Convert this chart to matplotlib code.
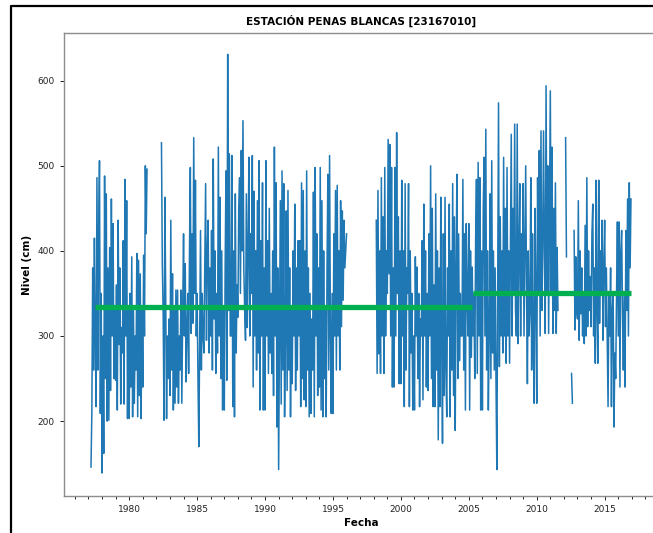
import numpy as np
import matplotlib
matplotlib.use("Agg")
import matplotlib.pyplot as plt
from matplotlib.lines import Line2D

nan = np.nan

# Water level (cm), sampled every 1/16 of a year starting at 1977.0.
# Each row covers half a year (8 samples); NaN marks missing records.
nivel_rows = [
    [nan, nan, nan, 146, 210, 380, 260, 415],   # 1977 a
    [300, 217, 486, 260, 420, 506, 209, 350],   # 1977 b
    [139, 300, 162, 488, 250, 467, 200, 380],   # 1978 a
    [201, 404, 236, 461, 300, 432, 250, 330],   # 1978 b
    [248, 360, 213, 436, 290, 380, 220, 310],   # 1979 a
    [280, 412, 220, 484, 300, 459, 203, 330],   # 1979 b
    [203, 350, 240, 393, 205, 330, 221, 300],   # 1980 a
    [260, 397, 205, 389, 230, 373, 203, 330],   # 1980 b
    [240, 395, 300, 500, 420, 496, nan, nan],   # 1981 a
    [nan, nan, nan, nan, nan, nan, nan, nan],   # 1981 b
    [nan, nan, nan, nan, nan, nan, 527, 385],   # 1982 a
    [326, 201, 463, 346, 203, 300, 250, 320],   # 1982 b
    [230, 436, 260, 373, 213, 330, 221, 354],   # 1983 a
    [240, 354, 221, 300, 260, 354, 221, 330],   # 1983 b
    [420, 300, 385, 246, 307, 350, 256, 400],   # 1984 a
    [498, 303, 420, 315, 533, 350, 483, 300],   # 1984 b
    [350, 250, 170, 300, 424, 260, 350, 300],   # 1985 a
    [280, 380, 479, 295, 400, 436, 280, 380],   # 1985 b
    [300, 424, 260, 508, 320, 400, 256, 350],   # 1986 a
    [280, 522, 300, 463, 250, 400, 213, 330],   # 1986 b
    [213, 380, 494, 248, 631, 330, 514, 300],   # 1987 a
    [300, 512, 217, 400, 205, 467, 280, 360],   # 1987 b
    [322, 450, 486, 350, 518, 400, 553, 380],   # 1988 a
    [330, 295, 467, 310, 400, 510, 300, 420],   # 1988 b
    [350, 512, 240, 470, 300, 400, 260, 459],   # 1989 a
    [280, 506, 213, 412, 300, 480, 213, 380],   # 1989 b
    [213, 506, 300, 412, 256, 450, 280, 350],   # 1990 a
    [256, 400, 230, 522, 300, 480, 193, 380],   # 1990 b
    [143, 300, 459, 220, 494, 260, 479, 205],   # 1991 a
    [300, 447, 236, 471, 260, 380, 205, 330],   # 1991 b
    [244, 400, 300, 455, 236, 380, 260, 412],   # 1992 a
    [300, 412, 217, 480, 250, 471, 225, 400],   # 1992 b
    [217, 494, 260, 380, 205, 350, 209, 320],   # 1993 a
    [260, 469, 205, 498, 300, 420, 230, 380],   # 1993 b
    [240, 498, 213, 459, 205, 400, 250, 330],   # 1994 a
    [205, 380, 490, 260, 512, 300, 209, 350],   # 1994 b
    [209, 420, 300, 471, 260, 477, 300, 400],   # 1995 a
    [260, 459, 311, 447, 342, 436, 380, 400],   # 1995 b
    [420, nan, nan, nan, nan, nan, nan, nan],   # 1996 a
    [nan, nan, nan, nan, nan, nan, nan, nan],   # 1996 b
    [nan, nan, nan, nan, nan, nan, nan, nan],   # 1997 a
    [nan, nan, nan, nan, nan, nan, nan, nan],   # 1997 b
    [nan, nan, nan, 436, 256, 471, 279, 400],   # 1998 a
    [256, 486, 300, 440, 256, 498, 300, 400],   # 1998 b
    [350, 531, 373, 525, 300, 498, 240, 380],   # 1999 a
    [240, 498, 300, 539, 350, 440, 244, 400],   # 1999 b
    [244, 483, 300, 400, 217, 479, 260, 380],   # 2000 a
    [350, 479, 217, 400, 280, 350, 213, 300],   # 2000 b
    [213, 393, 300, 381, 250, 350, 217, 320],   # 2001 a
    [300, 412, 225, 455, 300, 400, 240, 350],   # 2001 b
    [236, 420, 300, 500, 250, 450, 217, 360],   # 2002 a
    [217, 467, 260, 400, 178, 380, 217, 463],   # 2002 b
    [300, 174, 420, 230, 463, 260, 205, 380],   # 2003 a
    [300, 455, 205, 400, 260, 479, 230, 440],   # 2003 b
    [189, 380, 490, 250, 420, 271, 350, 300],   # 2004 a
    [300, 484, 260, 420, 213, 432, 350, 300],   # 2004 b
    [432, 213, 400, 275, 381, 300, 350, 250],   # 2005 a
    [410, 484, 256, 504, 300, 486, 213, 400],   # 2005 b
    [213, 450, 510, 300, 543, 260, 400, 213],   # 2006 a
    [300, 467, 250, 506, 280, 400, 260, 380],   # 2006 b
    [248, 143, 350, 574, 264, 440, 300, 400],   # 2007 a
    [280, 510, 300, 450, 268, 498, 300, 400],   # 2007 b
    [268, 400, 537, 300, 450, 350, 549, 330],   # 2008 a
    [300, 549, 291, 400, 479, 300, 420, 350],   # 2008 b
    [479, 300, 400, 500, 350, 244, 400, 300],   # 2009 a
    [330, 486, 260, 420, 300, 221, 450, 350],   # 2009 b
    [221, 486, 350, 518, 300, 541, 330, 400],   # 2010 a
    [541, 400, 303, 594, 350, 500, 303, 450],   # 2010 b
    [588, 350, 522, 303, 450, 330, 480, 303],   # 2011 a
    [404, 330, nan, nan, nan, nan, nan, nan],   # 2011 b
    [nan, nan, 533, 393, nan, nan, nan, nan],   # 2012 a
    [nan, 256, 221, nan, 424, 307, 393, 330],   # 2012 b
    [320, 459, 295, 400, 326, 380, 300, 350],   # 2013 a
    [291, 430, 300, 486, 311, 400, 330, 370],   # 2013 b
    [311, 420, 455, 300, 380, 268, 483, 330],   # 2014 a
    [268, 483, 315, 400, 350, 436, 295, 380],   # 2014 b
    [436, 311, 380, 300, 217, 350, 300, 380],   # 2015 a
    [217, 330, 350, 193, 280, 250, 350, 434],   # 2015 b
    [300, 434, 240, 400, 424, 330, 260, 350],   # 2016 a
    [240, 424, 330, 461, 300, 480, 380, 461],   # 2016 b
]
start_year = 1977.0
samples_per_year = 16

# Mean level for each period
mean_periods = [(1977.45, 2005.25), (2005.3, 2016.95)]
mean_levels = [334, 351]

nivel = np.array([v for row in nivel_rows for v in row], dtype=float)
fecha = start_year + np.arange(nivel.size) / samples_per_year

W, H = 653, 533
fig = plt.figure(figsize=(W / 100, H / 100), dpi=100)
ax = fig.add_axes([64 / W, 1 - 496 / H, (659 - 64) / W, (496 - 33) / H])

ax.plot(fecha, nivel, color="#1f77b4", lw=1.1)
for (x0, x1), m in zip(mean_periods, mean_levels):
    ax.plot([x0, x1], [m, m], color="#00b050", lw=3.8, solid_capstyle="butt")

ax.set_xlim(1975.2, 2019.0)
ax.set_ylim(112, 656)
ax.set_xticks([1980, 1985, 1990, 1995, 2000, 2005, 2010, 2015])
ax.set_xticks(np.arange(1976, 2019), minor=True)
ax.set_yticks([200, 300, 400, 500, 600])
ax.tick_params(labelsize=6.5, colors="#222222", length=3, width=0.7)
ax.tick_params(which="minor", length=2, width=0.6)
for s in ax.spines.values():
    s.set_color("#8c8c8c")
    s.set_linewidth(1.0)
ax.spines["right"].set_visible(False)

ax.set_title("ESTACIÓN PENAS BLANCAS [23167010]", fontsize=7.5,
             fontweight="bold", pad=6)
ax.set_xlabel("Fecha", fontsize=7.5, fontweight="bold", labelpad=3)
ax.set_ylabel("Nivel (cm)", fontsize=7.5, fontweight="bold", labelpad=4)

# Outer frame of the figure
frame = Line2D([10.5 / W, 10.5 / W, 1.0], [0.0, 1 - 5.5 / H, 1 - 5.5 / H],
               transform=fig.transFigure, color="black", lw=1.6)
fig.add_artist(frame)

fig.savefig("out.png", dpi=100)
